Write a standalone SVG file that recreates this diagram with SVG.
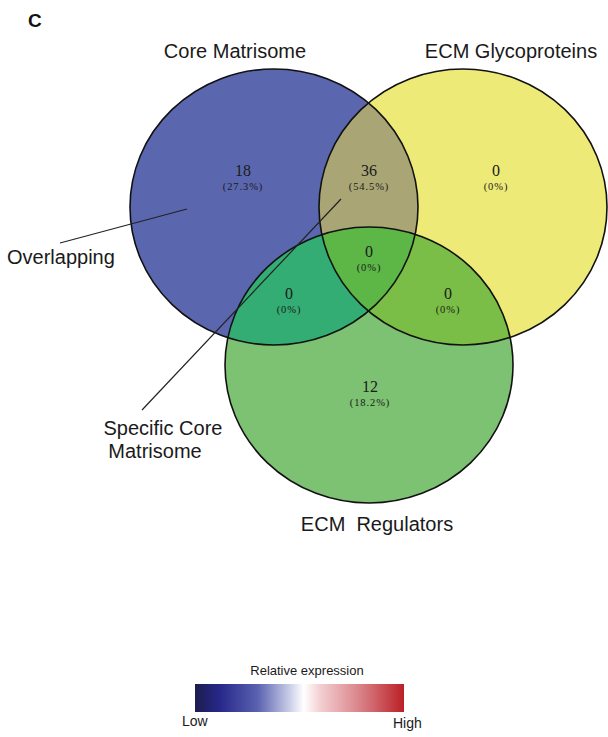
<svg xmlns="http://www.w3.org/2000/svg" width="608" height="737" viewBox="0 0 608 737">
<style>
.lbl{font-family:"Liberation Sans",Arial,sans-serif;font-size:20px;fill:#1a1a1a}
.num{font-family:"Liberation Serif","Times New Roman",serif;font-size:16px;fill:#1a1a1a;text-anchor:middle}
.pct{font-family:"Liberation Serif","Times New Roman",serif;font-size:10.5px;letter-spacing:0.9px;fill:#1a1a1a;text-anchor:middle}
.edge{fill:none;stroke:#111;stroke-width:1.6}
.lead{stroke:#222;stroke-width:1.2;fill:none}
</style>
<defs>
<clipPath id="cB"><ellipse cx="274" cy="207" rx="144" ry="138"/></clipPath>
<clipPath id="cY"><ellipse cx="463" cy="207" rx="144" ry="138"/></clipPath>
<linearGradient id="grad" x1="0" x2="1" y1="0" y2="0">
<stop offset="0" stop-color="#1c1c4e"/>
<stop offset="0.12" stop-color="#27288a"/>
<stop offset="0.3" stop-color="#5a62b0"/>
<stop offset="0.45" stop-color="#c8cbe6"/>
<stop offset="0.52" stop-color="#ffffff"/>
<stop offset="0.6" stop-color="#f3cfd2"/>
<stop offset="0.8" stop-color="#d77e84"/>
<stop offset="1" stop-color="#bb2026"/>
</linearGradient>
</defs>
<text x="28" y="27" style="font-family:'Liberation Sans',Arial,sans-serif;font-size:19px;font-weight:bold;fill:#111">C</text>

<g id="node-core-matrisome">
<ellipse cx="274" cy="207" rx="144" ry="138" fill="#5a67af"/>
</g>
<g id="node-ecm-glycoproteins">
<ellipse cx="463" cy="207" rx="144" ry="138" fill="#eeea78"/>
<ellipse cx="463" cy="207" rx="144" ry="138" fill="#a9a575" clip-path="url(#cB)"/>
</g>
<g id="node-ecm-regulators">
<ellipse cx="369" cy="365" rx="144" ry="138" fill="#7dc172"/>
<ellipse cx="369" cy="365" rx="144" ry="138" fill="#33ad74" clip-path="url(#cB)"/>
<ellipse cx="369" cy="365" rx="144" ry="138" fill="#7bbe47" clip-path="url(#cY)"/>
<g clip-path="url(#cB)"><ellipse cx="369" cy="365" rx="144" ry="138" fill="#5cb746" clip-path="url(#cY)"/></g>
</g>
<g id="outlines">
<ellipse class="edge" cx="274" cy="207" rx="144" ry="138"/>
<ellipse class="edge" cx="463" cy="207" rx="144" ry="138"/>
<ellipse class="edge" cx="369" cy="365" rx="144" ry="138"/>
</g>

<g id="counts">
<text class="num" x="243" y="176">18</text><text class="pct" x="243" y="190">(27.3%)</text>
<text class="num" x="369" y="176">36</text><text class="pct" x="369" y="190">(54.5%)</text>
<text class="num" x="496" y="176">0</text><text class="pct" x="496" y="190">(0%)</text>
<text class="num" x="369" y="257">0</text><text class="pct" x="369" y="271">(0%)</text>
<text class="num" x="289" y="299">0</text><text class="pct" x="289" y="313">(0%)</text>
<text class="num" x="448" y="299">0</text><text class="pct" x="448" y="313">(0%)</text>
<text class="num" x="370" y="392">12</text><text class="pct" x="370" y="406">(18.2%)</text>
</g>

<g id="connectors">
<line class="lead" x1="60" y1="243" x2="187" y2="209"/>
<line class="lead" x1="142" y1="410" x2="341" y2="199"/>
</g>

<g id="labels">
<text class="lbl" x="235" y="58" text-anchor="middle">Core Matrisome</text>
<text class="lbl" x="511" y="58" text-anchor="middle">ECM Glycoproteins</text>
<text class="lbl" x="377" y="531" text-anchor="middle" xml:space="preserve">ECM  Regulators</text>
<text class="lbl" x="7" y="264">Overlapping</text>
<text class="lbl" x="163" y="435" text-anchor="middle">Specific Core</text>
<text class="lbl" x="155" y="458" text-anchor="middle">Matrisome</text>
</g>

<g id="legend">
<text x="307" y="675" text-anchor="middle" style="font-family:'Liberation Sans',Arial,sans-serif;font-size:13px;fill:#1a1a1a">Relative expression</text>
<rect x="195" y="684" width="209" height="28" fill="url(#grad)"/>
<text x="182" y="726" style="font-family:'Liberation Sans',Arial,sans-serif;font-size:14px;fill:#1a1a1a">Low</text>
<text x="393" y="728" style="font-family:'Liberation Sans',Arial,sans-serif;font-size:14px;fill:#1a1a1a">High</text>
</g>
</svg>
